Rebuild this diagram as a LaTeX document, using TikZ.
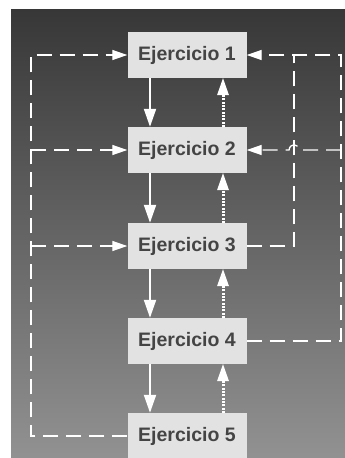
\documentclass[tikz,border=0pt]{standalone}
\usepackage{fontspec}
\setmainfont{Liberation Sans}
\usetikzlibrary{arrows.meta,calc}
\definecolor{boxfill}{HTML}{E2E2E2}
\definecolor{txt}{HTML}{444444}
\definecolor{bgtop}{HTML}{373737}
\definecolor{bgmid}{HTML}{5E5E5E}
\definecolor{bgbot}{HTML}{929292}
\tikzset{
  ejbox/.style={fill=boxfill, draw=none, minimum width=119pt, minimum height=46pt, inner sep=0pt,
    font=\fontsize{19.5}{21}\selectfont\bfseries, text=txt},
  fb/.style={white, line width=1.3pt, dash pattern=on 15pt off 8pt},
  fbtip/.style={-{Triangle[length=15pt,width=10pt]}},
  down/.style={white, line width=2pt, -{Triangle[length=18pt,width=12pt]}},
  up/.style={white, line width=3pt, dash pattern=on 2pt off 1.3pt, -{Triangle[length=17pt,width=12pt,line width=0pt]}},
}
\begin{document}
\begin{tikzpicture}[x=1pt,y=-1pt]
\useasboundingbox (0,0) rectangle (345,458);
\clip (0,0) rectangle (345,458);
\shade[top color=bgtop, middle color=bgmid, bottom color=bgbot] (11,9) rectangle (345,460);
\node[ejbox] (e1) at (187,55) {Ejercicio 1};
\node[ejbox] (e2) at (187,150) {Ejercicio 2};
\node[ejbox] (e3) at (187,246) {Ejercicio 3};
\node[ejbox] (e4) at (187,341) {Ejercicio 4};
\node[ejbox] (e5) at (187,436) {Ejercicio 5};
% down and up arrows
\foreach \a/\b in {e1/e2,e2/e3,e3/e4,e4/e5}{
  \draw[down] (\a.south -| 150,0) -- (\b.north -| 150,0);
  \draw[up] (\b.north -| 223,0) -- (\a.south -| 223,0);
}
% left feedback
\coordinate (lt) at (31,55);
\coordinate (lb) at (31,436);
\draw[fb, fbtip] (e5.west) -- (lb) -- (lt) -- (e1.west);
\draw[fb, fbtip] (lb |- e2.west) -- (e2.west);
\draw[fb, fbtip] (lb |- e3.west) -- (e3.west);
% right feedback
\coordinate (ro) at (341,55);
\coordinate (ri) at (294,55);
\draw[fb, fbtip] (e4.east) -- (e4.east -| ro) -- (ro) -- (e1.east);
\draw[fb] (e3.east) -- (e3.east -| ri) -- (ri);
\coordinate (hr) at (299,150);
\coordinate (hl) at (289,150);
\draw[fb, fbtip] (ro |- e2.east) -- (hr) .. controls (298,143) and (290,143) .. (hl) -- (e2.east);
\end{tikzpicture}
\end{document}
